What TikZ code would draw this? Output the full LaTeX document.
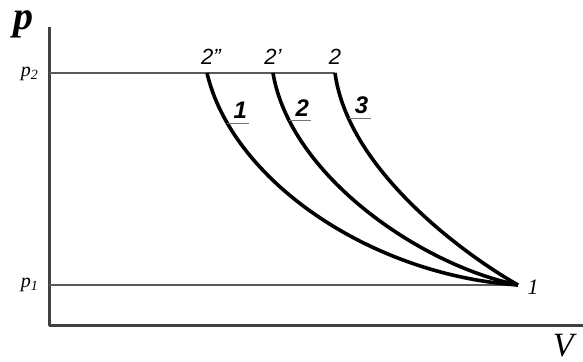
\documentclass[tikz,border=0pt]{standalone}
\usepackage{fontspec}
\setmainfont{Liberation Serif}
\newfontfamily\labfont[Ligatures=TeX]{Liberation Sans}
\begin{document}
\begin{tikzpicture}[x=0.5pt, y=-0.5pt,
    axis/.style={line width=1.5pt, black!75, line join=round},
    isobar/.style={line width=1pt, black!65},
    proc/.style={line width=1.8pt},
    leader/.style={line width=0.5pt, black!55},
    ptlabel/.style={font=\labfont\itshape\fontsize{11}{11}\selectfont, inner sep=1pt},
    numlabel/.style={font=\labfont\itshape\bfseries\fontsize{12}{12}\selectfont, inner sep=1pt}]
    \useasboundingbox (0,0) rectangle (583,362);
    % Axes
    \coordinate (O) at (49,326);
    \coordinate (ytop) at (49,27);
    \coordinate (xend) at (583,326);
    \draw[axis] (ytop) -- (O) -- (xend);
    \node (p) at (23,24) {\fontsize{20}{20}\selectfont\itshape\bfseries p};
    \node[anchor=north east, inner sep=0pt] (V) at (574,334) {\fontsize{17}{17}\selectfont\itshape V};
    % Isobares
    \coordinate (P2) at (49,73);
    \coordinate (P1) at (49,285);
    \coordinate (B3) at (335,73);
    \coordinate (B2) at (273,73);
    \coordinate (B1) at (207,73);
    \coordinate (A) at (518,285);
    \draw[isobar] (P2) -- (B3);
    \draw[isobar] (P1) -- (A);
    \node[anchor=east] (p2) at (45,74) {\itshape p\raisebox{-0.3ex}{\scriptsize 2}};
    \node[anchor=east] (p1) at (45,285) {\itshape p\raisebox{-0.3ex}{\scriptsize 1}};
    % Processus
    \draw[proc] (B1) .. controls (232,180) and (370,275) .. (A) coordinate[pos=0.16] (L1);
    \draw[proc] (B2) .. controls (290,175) and (420,265) .. (A) coordinate[pos=0.16] (L2);
    \draw[proc] (B3) .. controls (348,170) and (465,255) .. (A) coordinate[pos=0.16] (L3);
    % Labels
    \node[ptlabel] (n2b) at (211,57) {2''};
    \node[ptlabel] (n2a) at (273,57) {2'};
    \node[ptlabel] (n2) at (335,57) {2};
    \node[font=\itshape\fontsize{11}{11}\selectfont, inner sep=1pt] (n1) at (533,287) {1};
    \foreach \k in {1,2,3} {
        \node[numlabel, anchor=south west] (c\k) at ([xshift=2pt,yshift=1pt]L\k) {\k};
        \draw[leader] (L\k) -- (L\k -| c\k.east);
    }
\end{tikzpicture}
\end{document}
